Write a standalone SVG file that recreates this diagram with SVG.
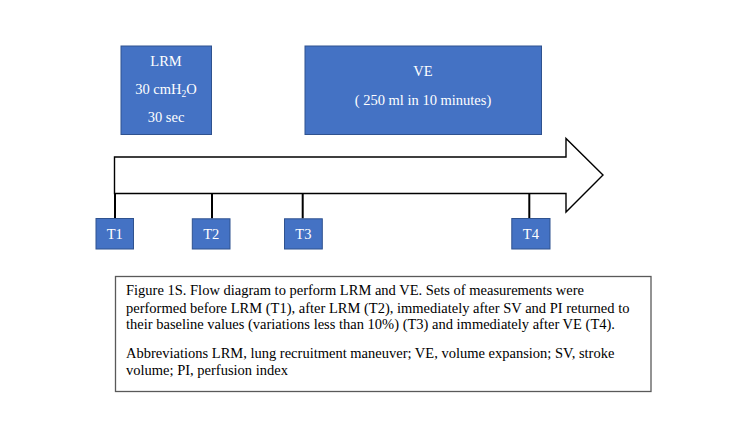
<svg xmlns="http://www.w3.org/2000/svg" width="741" height="429" viewBox="0 0 741 429">
<style>
.box{fill:#4472C4;stroke:#2F528F;stroke-width:1}
.wt{font-family:"Liberation Serif","Times New Roman",serif;font-size:14.5px;fill:#ffffff;text-anchor:middle}
.cap{font-family:"Liberation Serif","Times New Roman",serif;font-size:14.5px;fill:#000000}
.tick{stroke:#000000;stroke-width:2;fill:none}
</style>
<rect width="741" height="429" fill="#ffffff"/>
<g id="arrow">
<path d="M114.5,157 H566 V138.5 L603,175 L566,212 V193.5 H114.5 Z" fill="#ffffff" stroke="#000000" stroke-width="1.4" stroke-linejoin="miter"/>
</g>
<g id="LRM">
<rect class="box" x="121" y="46" width="90.5" height="88.5"/>
<text class="wt" x="166" y="66">LRM</text>
<text class="wt" x="166" y="94.3">30 cmH<tspan font-size="9.5px" dy="3">2</tspan><tspan dy="-3">O</tspan></text>
<text class="wt" x="166" y="122.3">30 sec</text>
</g>
<g id="VE">
<rect class="box" x="305" y="46" width="236.5" height="88.5"/>
<text class="wt" x="423" y="75.7">VE</text>
<text class="wt" x="423" y="104.7">( 250 ml in 10 minutes)</text>
</g>
<g id="connectors">
<line class="tick" x1="115" y1="193.5" x2="115" y2="218.5"/>
<line class="tick" x1="212" y1="193.5" x2="212" y2="218.5"/>
<line class="tick" x1="302.7" y1="193.5" x2="302.7" y2="218.5"/>
<line class="tick" x1="529.3" y1="193.5" x2="529.3" y2="218.5"/>
</g>
<g id="T1">
<rect class="box" x="96" y="218.5" width="37.5" height="30.5"/>
<text class="wt" x="114.7" y="238.5">T1</text>
</g>
<g id="T2">
<rect class="box" x="192.3" y="218.8" width="37.7" height="30.2"/>
<text class="wt" x="211.2" y="238.5">T2</text>
</g>
<g id="T3">
<rect class="box" x="284.5" y="218.8" width="37.8" height="30.2"/>
<text class="wt" x="303.4" y="238.5">T3</text>
</g>
<g id="T4">
<rect class="box" x="511.8" y="218.5" width="38.2" height="30.5"/>
<text class="wt" x="530.9" y="238.5">T4</text>
</g>
<g id="caption">
<rect x="115.5" y="276.5" width="535.5" height="115" fill="#ffffff" stroke="#595959" stroke-width="1.3"/>
<text class="cap" x="126" y="295">Figure 1S. Flow diagram to perform LRM and VE. Sets of measurements were</text>
<text class="cap" x="126" y="312.7">performed before LRM (T1), after LRM (T2), immediately after SV and PI returned to</text>
<text class="cap" x="126" y="329.3">their baseline values (variations less than 10%) (T3) and immediately after VE (T4).</text>
<text class="cap" x="126" y="357.7">Abbreviations LRM, lung recruitment maneuver; VE, volume expansion; SV, stroke</text>
<text class="cap" x="126" y="375.2">volume; PI, perfusion index</text>
</g>
</svg>
